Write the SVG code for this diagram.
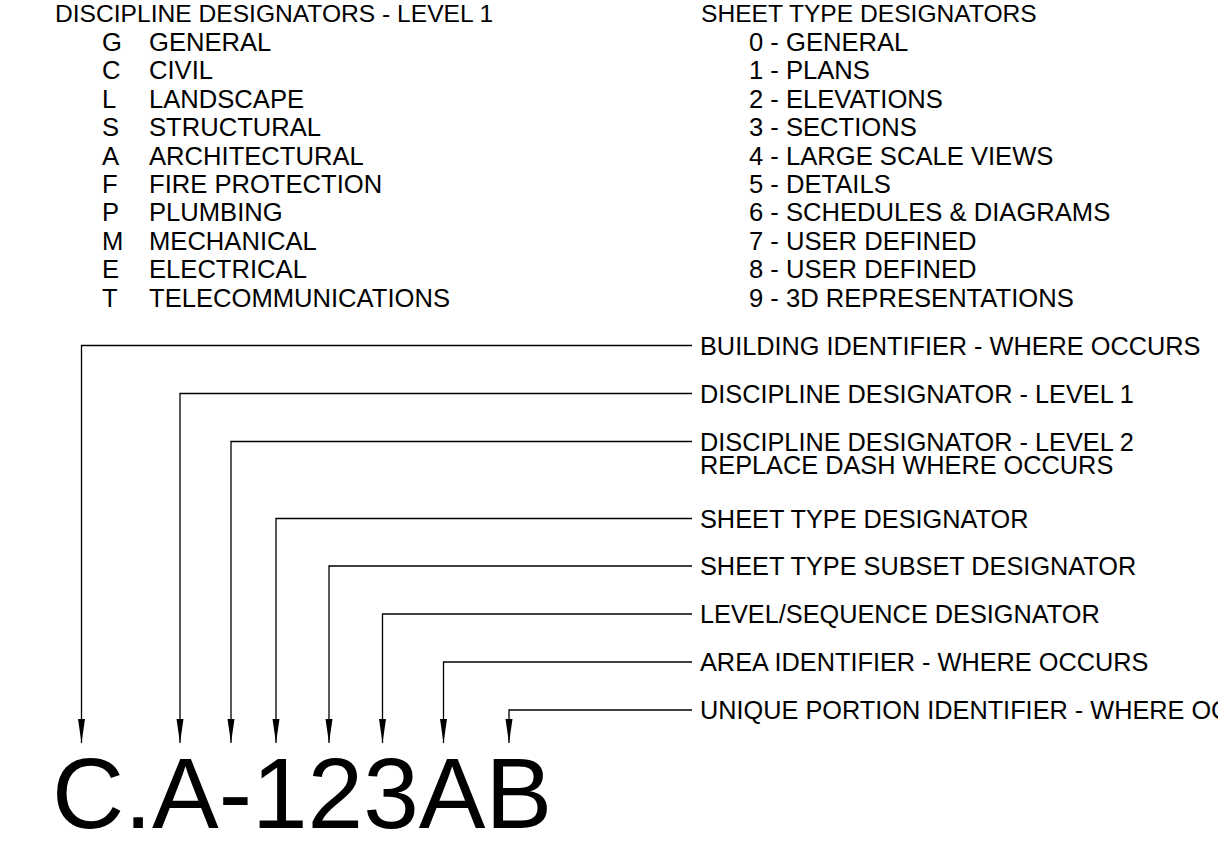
<svg xmlns="http://www.w3.org/2000/svg" width="1218" height="865" viewBox="0 0 1218 865">
<style>
  text { font-family: "Liberation Sans", Arial, sans-serif; font-size: 25.3px; fill: #000; }
  .hdr { font-size: 24.6px; }
  .item { font-size: 25.6px; }
  .big { font-size: 100px; }
  .lead { fill: none; stroke: #000; stroke-width: 1.3; marker-end: url(#arr); }
</style>
<defs>
  <marker id="arr" markerUnits="userSpaceOnUse" markerWidth="26" markerHeight="8" refX="24" refY="3.5" orient="auto">
    <path d="M0,0 L24,3.5 L0,7 z" fill="#000"/>
  </marker>
</defs>
<rect width="1218" height="865" fill="#fff"/>

<g id="discipline-list">
  <text class="hdr" x="55" y="22">DISCIPLINE DESIGNATORS - LEVEL 1</text>
  <text class="item" x="102" y="51">G</text><text class="item" x="149" y="51">GENERAL</text>
  <text class="item" x="102" y="79.4">C</text><text class="item" x="149" y="79.4">CIVIL</text>
  <text class="item" x="102" y="107.8">L</text><text class="item" x="149" y="107.8">LANDSCAPE</text>
  <text class="item" x="102" y="136.2">S</text><text class="item" x="149" y="136.2">STRUCTURAL</text>
  <text class="item" x="102" y="164.6">A</text><text class="item" x="149" y="164.6">ARCHITECTURAL</text>
  <text class="item" x="102" y="193">F</text><text class="item" x="149" y="193">FIRE PROTECTION</text>
  <text class="item" x="102" y="221.4">P</text><text class="item" x="149" y="221.4">PLUMBING</text>
  <text class="item" x="102" y="249.8">M</text><text class="item" x="149" y="249.8">MECHANICAL</text>
  <text class="item" x="102" y="278.2">E</text><text class="item" x="149" y="278.2">ELECTRICAL</text>
  <text class="item" x="102" y="306.6">T</text><text class="item" x="149" y="306.6">TELECOMMUNICATIONS</text>
</g>

<g id="sheet-type-list">
  <text class="hdr" x="701" y="22">SHEET TYPE DESIGNATORS</text>
  <text class="item" x="749" y="51">0 - GENERAL</text>
  <text class="item" x="749" y="79.4">1 - PLANS</text>
  <text class="item" x="749" y="107.8">2 - ELEVATIONS</text>
  <text class="item" x="749" y="136.2">3 - SECTIONS</text>
  <text class="item" x="749" y="164.6">4 - LARGE SCALE VIEWS</text>
  <text class="item" x="749" y="193">5 - DETAILS</text>
  <text class="item" x="749" y="221.4">6 - SCHEDULES &amp; DIAGRAMS</text>
  <text class="item" x="749" y="249.8">7 - USER DEFINED</text>
  <text class="item" x="749" y="278.2">8 - USER DEFINED</text>
  <text class="item" x="749" y="306.6">9 - 3D REPRESENTATIONS</text>
</g>

<g id="connectors">
  <path class="lead" d="M692,345.5 H81.5 V743"/>
  <path class="lead" d="M692,393.5 H180 V743"/>
  <path class="lead" d="M692,441.5 H231 V743"/>
  <path class="lead" d="M692,518.5 H276 V743"/>
  <path class="lead" d="M692,566 H329 V743"/>
  <path class="lead" d="M692,614 H382.5 V743"/>
  <path class="lead" d="M692,662 H443.5 V743"/>
  <path class="lead" d="M692,710 H509 V743"/>
</g>

<g id="labels">
  <text id="lbl-building" x="700" y="354.5">BUILDING IDENTIFIER - WHERE OCCURS</text>
  <text id="lbl-disc1" x="700" y="402.5">DISCIPLINE DESIGNATOR - LEVEL 1</text>
  <g id="lbl-disc2">
    <text x="700" y="450.5">DISCIPLINE DESIGNATOR - LEVEL 2</text>
    <text x="700" y="474">REPLACE DASH WHERE OCCURS</text>
  </g>
  <text id="lbl-sheettype" x="700" y="527.5">SHEET TYPE DESIGNATOR</text>
  <text id="lbl-subset" x="700" y="575">SHEET TYPE SUBSET DESIGNATOR</text>
  <text id="lbl-level" x="700" y="623">LEVEL/SEQUENCE DESIGNATOR</text>
  <text id="lbl-area" x="700" y="671">AREA IDENTIFIER - WHERE OCCURS</text>
  <text id="lbl-unique" x="700" y="719">UNIQUE PORTION IDENTIFIER - WHERE OCCURS</text>
</g>

<g id="sheet-number">
  <text class="big" x="52" y="828">C.A-123AB</text>
</g>
</svg>
